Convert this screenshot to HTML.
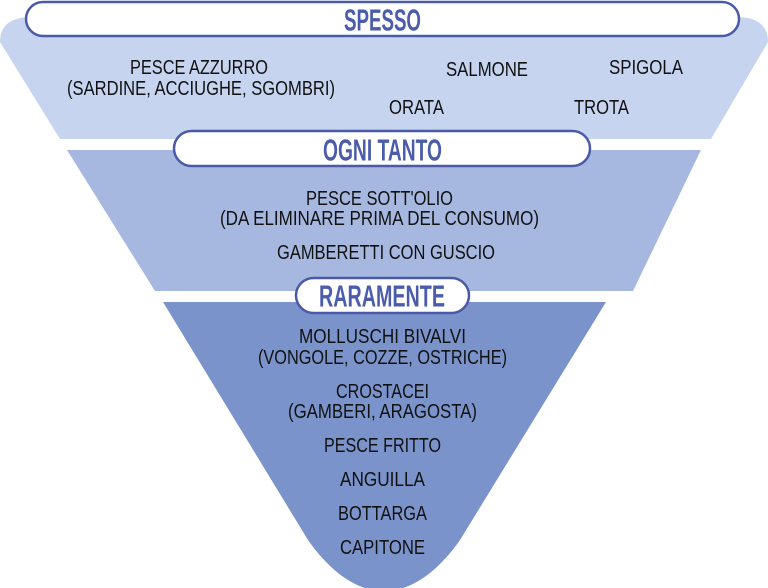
<!DOCTYPE html>
<html><head><meta charset="utf-8"><style>
html,body{margin:0;padding:0;background:#fff;width:768px;height:588px;overflow:hidden}
svg{display:block}
.t{font-family:"Liberation Sans Narrow","Liberation Sans",sans-serif;font-size:20px;fill:#111;text-anchor:middle}
.h{font-family:"Liberation Sans Narrow","Liberation Sans",sans-serif;font-weight:bold;font-size:31px;fill:#4a5cab;text-anchor:middle}
.p{fill:#fff;stroke:#4a5aa8;stroke-width:2.5}
</style></head><body>
<svg width="768" height="588" viewBox="0 0 768 588" xmlns="http://www.w3.org/2000/svg">
<path d="M32,17 H736 Q768,17 768,42 L711,139 H60 L0,42 Q0,17 32,17 Z" fill="#c6d4ef"/>
<path d="M67,150 H701 L633,291 H155 Z" fill="#a7b8e0"/>
<path d="M163,302 H606 L460,540 C412,608 356,608 308,540 Z" fill="#7b93cb"/>
<rect class="p" x="26" y="2" width="713" height="34" rx="17"/>
<rect class="p" x="174" y="131" width="416" height="35" rx="17.5"/>
<rect class="p" x="296" y="278" width="173" height="35" rx="17.5"/>
<text class="h" x="382.5" y="30.5" textLength="77" lengthAdjust="spacingAndGlyphs">SPESSO</text>
<text class="h" x="382.5" y="160.5" textLength="119" lengthAdjust="spacingAndGlyphs">OGNI TANTO</text>
<text class="h" x="382" y="306.5" textLength="126" lengthAdjust="spacingAndGlyphs">RARAMENTE</text>
<g class="t">
<text x="199" y="74" textLength="138" lengthAdjust="spacingAndGlyphs">PESCE AZZURRO</text>
<text x="201" y="95" textLength="268" lengthAdjust="spacingAndGlyphs">(SARDINE, ACCIUGHE, SGOMBRI)</text>
<text x="487" y="76" textLength="82" lengthAdjust="spacingAndGlyphs">SALMONE</text>
<text x="646" y="74" textLength="74" lengthAdjust="spacingAndGlyphs">SPIGOLA</text>
<text x="416.5" y="114" textLength="55" lengthAdjust="spacingAndGlyphs">ORATA</text>
<text x="601.5" y="114" textLength="55" lengthAdjust="spacingAndGlyphs">TROTA</text>
<text x="379.5" y="205" textLength="147" lengthAdjust="spacingAndGlyphs">PESCE SOTT'OLIO</text>
<text x="379.5" y="225" textLength="319" lengthAdjust="spacingAndGlyphs">(DA ELIMINARE PRIMA DEL CONSUMO)</text>
<text x="386" y="259" textLength="218" lengthAdjust="spacingAndGlyphs">GAMBERETTI CON GUSCIO</text>
<text x="382.5" y="343" textLength="167" lengthAdjust="spacingAndGlyphs">MOLLUSCHI BIVALVI</text>
<text x="382.5" y="364" textLength="249" lengthAdjust="spacingAndGlyphs">(VONGOLE, COZZE, OSTRICHE)</text>
<text x="382.5" y="398" textLength="93" lengthAdjust="spacingAndGlyphs">CROSTACEI</text>
<text x="382.5" y="418" textLength="189" lengthAdjust="spacingAndGlyphs">(GAMBERI, ARAGOSTA)</text>
<text x="382.5" y="452" textLength="117" lengthAdjust="spacingAndGlyphs">PESCE FRITTO</text>
<text x="382.5" y="486" textLength="85" lengthAdjust="spacingAndGlyphs">ANGUILLA</text>
<text x="382.5" y="520" textLength="89" lengthAdjust="spacingAndGlyphs">BOTTARGA</text>
<text x="382.5" y="554" textLength="85" lengthAdjust="spacingAndGlyphs">CAPITONE</text>
</g>
</svg>
</body></html>
